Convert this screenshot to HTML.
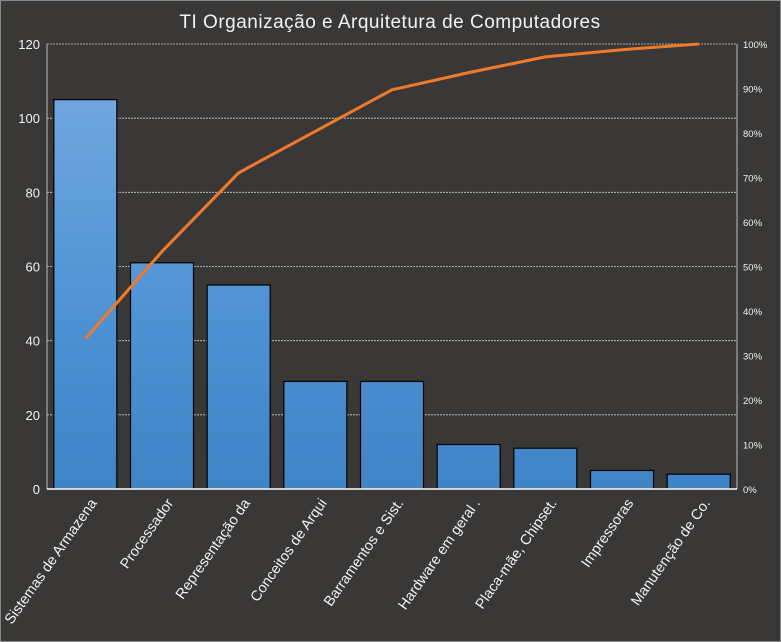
<!DOCTYPE html>
<html><head><meta charset="utf-8"><style>
html,body{margin:0;padding:0;background:#393837;}
svg{display:block;font-family:"Liberation Sans","DejaVu Sans",sans-serif;}
</style></head><body>
<svg id="chart" width="781" height="642">
<defs><linearGradient id="bg" gradientUnits="userSpaceOnUse" x1="0" y1="80" x2="0" y2="489"><stop offset="0" stop-color="#72a8de"/><stop offset="0.6" stop-color="#4d91d4"/><stop offset="1" stop-color="#3f84c6"/></linearGradient></defs>
<rect x="0.5" y="0.5" width="780" height="641" fill="#393837" stroke="#8a8a8a"/>
<text x="390" y="28" text-anchor="middle" font-size="19" fill="#f2f2f2" letter-spacing="0.5">TI Organização e Arquitetura de Computadores</text>
<g id="grid"></g><g id="bars"></g><g id="line"></g><g id="axes"></g><g id="labels"></g>
</svg>
<script>
const categories=["Sistemas de Armazena","Processador","Representação da","Conceitos de Arqui","Barramentos e Sist.","Hardware em geral .","Placa-mãe, Chipset.","Impressoras","Manutenção de Co."];
const values=[105,61,55,29,29,12,11,5,4];
const leftTicks=[0,20,40,60,80,100,120];
const rightTicks=[0,10,20,30,40,50,60,70,80,90,100];
const NS="http://www.w3.org/2000/svg";
const L=47,R=737,T=44,B=489,yMax=120;
const step=(R-L)/categories.length,bw=63;
const y=v=>B-(v/yMax)*(B-T);
const yp=p=>B-(p/100)*(B-T);
const xc=i=>L+step*(i+0.5);
function mk(t,a,p){const e=document.createElementNS(NS,t);for(const k in a)e.setAttribute(k,a[k]);p.appendChild(e);return e;}
const grid=document.getElementById('grid'),bars=document.getElementById('bars'),line=document.getElementById('line'),axes=document.getElementById('axes'),labels=document.getElementById('labels');
leftTicks.forEach(v=>{
 if(v>0){const g=mk('line',{x1:L,x2:R,y1:y(v),y2:y(v),stroke:'#cfcfcf','stroke-width':0.8,'stroke-dasharray':'2,1'},grid);
 
 }
 const t=mk('text',{x:L-7,y:y(v)+5,'text-anchor':'end','font-size':13,fill:'#f2f2f2'},axes);t.textContent=v;
 
 
});
rightTicks.forEach(p=>{
 const t=mk('text',{x:R+6,y:yp(p)+4,'font-size':9.5,fill:'#f2f2f2'},axes);t.textContent=p+'%';
 
 
});
const total=values.reduce((a,b)=>a+b,0);
let cum=0;const pts=[];
values.forEach((v,i)=>{
 const r=mk('rect',{x:xc(i)-bw/2,y:y(v),width:bw,height:B-y(v),fill:'url(#bg)',stroke:'#000','stroke-width':1.2},bars);
 
 
 cum+=v;pts.push(xc(i)+','+yp(cum/total*100));
 const t=mk('text',{transform:`translate(${xc(i)+12},${B+14}) rotate(-55)`,'text-anchor':'end','font-size':14.5,fill:'#f2f2f2'},labels);t.textContent=categories[i];
 
 
});
const pl=mk('polyline',{points:pts.join(' '),fill:'none',stroke:'#f07a2a','stroke-width':3,'stroke-linejoin':'round'},line);


const a1=mk('line',{x1:L,x2:L,y1:T,y2:B,stroke:'#bdbdbd','stroke-width':1},axes);


const a2=mk('line',{x1:R,x2:R,y1:T,y2:B,stroke:'#bdbdbd','stroke-width':1},axes);


const a3=mk('line',{x1:L,x2:R,y1:B,y2:B,stroke:'#ffffff','stroke-width':1.5},axes);


</script>
</body></html>
